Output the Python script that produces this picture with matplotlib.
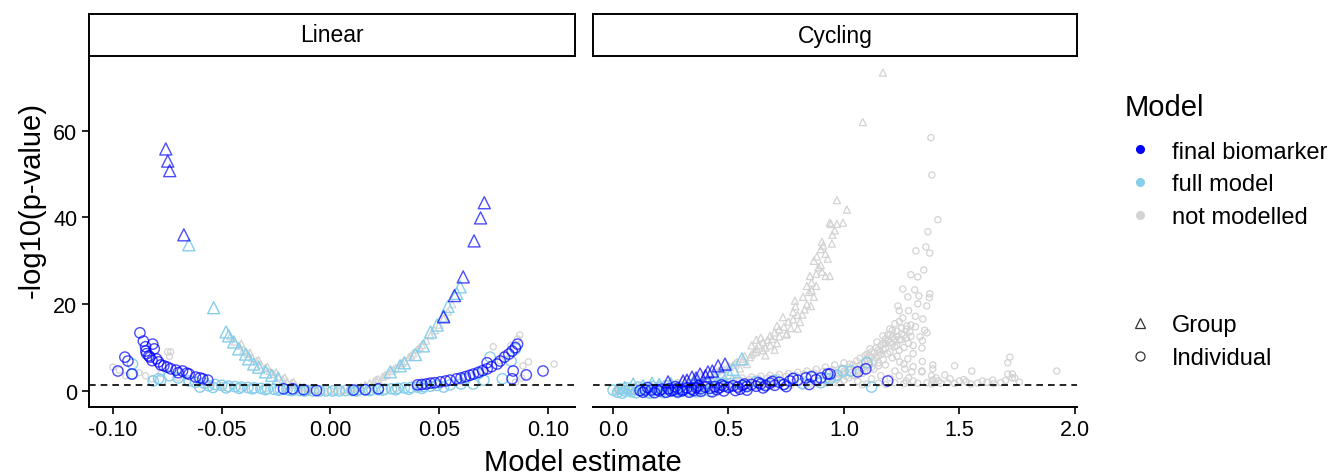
import matplotlib
matplotlib.use("Agg")
import matplotlib.pyplot as plt
from matplotlib.lines import Line2D

plt.rcParams['font.family'] = ['Liberation Sans', 'DejaVu Sans']

# ---------------- DATA ----------------
panels = ["Linear", "Cycling"]
model_labels = ["final biomarker", "full model", "not modelled"]
shape_labels = ["Group", "Individual"]
threshold = 1.301
lin_xticks = [-0.10, -0.05, 0.00, 0.05, 0.10]
lin_xticklabels = ["-0.10", "-0.05", "0.00", "0.05", "0.10"]
cyc_xticks = [0.0, 0.5, 1.0, 1.5, 2.0]
cyc_xticklabels = ["0.0", "0.5", "1.0", "1.5", "2.0"]
yticks = [0, 20, 40, 60]

# Linear panel
lin_fb_grp_x = [-0.0757, -0.0748, -0.0739, -0.0674, 0.0707, 0.0690, 0.0660, 0.0610, 0.0570, 0.0520]
lin_fb_grp_y = [55.8, 53.0, 50.8, 36.0, 43.4, 39.9, 34.6, 26.3, 22.0, 17.1]

lin_fm_grp_x = [-0.0651, -0.0537, -0.0480, -0.0468, -0.0445, -0.0422, -0.0390, -0.0376, -0.0353, -0.0330,
                -0.0298, -0.0270, -0.0240, 0.0275, 0.0320, 0.0340, 0.0390, 0.0427, 0.0460, 0.0490,
                0.0520, 0.0540, 0.0580, 0.0596]
lin_fm_grp_y = [33.7, 19.2, 13.6, 12.7, 11.3, 9.7, 8.5, 7.4, 6.2, 5.5,
                4.4, 3.6, 2.9, 4.4, 5.8, 6.5, 8.4, 10.4, 13.6, 15.2,
                17.3, 19.5, 22.5, 24.0]

lin_nm_grp_x = [-0.046, -0.044, -0.042, -0.040, -0.038, -0.036, -0.034, -0.032, -0.030, -0.028,
                -0.026, -0.024, -0.022, -0.020, -0.018, -0.016, -0.014, -0.012, -0.010, -0.008,
                -0.006, -0.004, -0.002, -0.041, -0.037, -0.033, -0.029, -0.025, -0.021, -0.017,
                0.002, 0.004, 0.006, 0.008, 0.010, 0.012, 0.014, 0.016, 0.018, 0.020,
                0.022, 0.024, 0.026, 0.028, 0.030, 0.032, 0.034, 0.036, 0.038, 0.040,
                0.042, 0.044, 0.046, 0.048, 0.050, 0.052, 0.054, 0.056, 0.021, 0.025,
                0.029, 0.033, 0.037, 0.041]
lin_nm_grp_y = [12.6, 11.4, 10.4, 9.5, 8.6, 7.7, 6.9, 6.1, 5.3, 4.6,
                3.9, 3.3, 2.7, 2.2, 1.8, 1.4, 1.0, 0.8, 0.6, 0.4,
                0.2, 0.1, 0.0, 10.9, 8.8, 7.1, 5.6, 4.3, 3.1, 2.1,
                0.0, 0.1, 0.2, 0.4, 0.6, 0.8, 1.0, 1.4, 1.8, 2.2,
                2.7, 3.3, 3.9, 4.6, 5.3, 6.1, 6.9, 7.8, 8.7, 9.6,
                10.6, 11.6, 12.8, 14.0, 15.3, 16.7, 18.3, 20.0, 2.6, 3.6,
                5.0, 6.5, 8.2, 10.1]

lin_fb_ind_x = [-0.0876, -0.0860, -0.0850, -0.0849, -0.0835, -0.0817, -0.0810, -0.0800, -0.0790, -0.0766,
                -0.0734, -0.0680, -0.0650, -0.0620, -0.0587, -0.0564, -0.0845, -0.0830, -0.0820, -0.0780,
                -0.0750, -0.0710, -0.0700, -0.0660, -0.0600, -0.0945, -0.0931, -0.0977, -0.0913,
                -0.0216, -0.0174, -0.0124, -0.0064, 0.0106, 0.0160, 0.0220,
                0.040, 0.042, 0.044, 0.046, 0.048, 0.0505, 0.053, 0.055, 0.058, 0.060,
                0.062, 0.064, 0.0657, 0.068, 0.070, 0.072, 0.074, 0.0766, 0.078, 0.080,
                0.082, 0.0835, 0.085, 0.086, 0.072, 0.084, 0.0835, 0.090, 0.0977]
lin_fb_ind_y = [13.4, 11.5, 10.2, 9.2, 8.1, 10.8, 9.7, 7.4, 6.7, 5.8,
                5.1, 4.6, 3.9, 3.2, 2.8, 2.5, 8.6, 7.8, 7.0, 6.0,
                5.5, 4.8, 4.2, 4.1, 3.0, 7.8, 6.9, 4.6, 3.9,
                0.5, 0.5, 0.3, 0.1, 0.2, 0.3, 0.5,
                1.4, 1.5, 1.6, 1.8, 1.9, 2.1, 2.3, 2.5, 2.8, 3.0,
                3.3, 3.6, 3.9, 4.3, 4.7, 5.1, 5.6, 6.2, 6.9, 7.8,
                8.5, 9.2, 10.0, 10.8, 6.5, 4.6, 2.8, 3.7, 4.6]

lin_fm_ind_x = [-0.091, -0.091, -0.0815, -0.079, -0.078, -0.074, -0.070, -0.065, -0.062, -0.058,
                -0.056, -0.053, -0.050, -0.047, -0.044, -0.041, -0.038, -0.035, -0.032, -0.029,
                -0.026, -0.023, -0.020, -0.017, -0.014, -0.011, -0.008, -0.005, -0.002, 0.001,
                0.004, 0.007, 0.010, 0.013, 0.016, 0.019, 0.022, 0.025, 0.028, 0.031,
                0.034, 0.037, 0.040, 0.043, 0.046, 0.049, 0.052, 0.055, 0.060, 0.0656,
                0.0705, 0.079, 0.0734, 0.083, 0.085, 0.068, 0.062,
                -0.060, -0.054, -0.048, -0.042, -0.036, -0.030, -0.024, -0.018, -0.012, 0.012,
                0.018, 0.024, 0.030, 0.036, 0.042]
lin_fm_ind_y = [6.2, 3.9, 2.3, 2.8, 2.5, 3.5, 3.0, 2.3, 2.0, 1.8,
                1.2, 1.5, 1.3, 1.1, 1.0, 0.9, 0.8, 0.7, 0.6, 0.5,
                0.4, 0.3, 0.3, 0.2, 0.1, 0.1, 0.0, 0.0, 0.0, 0.0,
                0.0, 0.1, 0.1, 0.2, 0.2, 0.3, 0.3, 0.4, 0.5, 0.6,
                0.7, 0.8, 0.9, 1.0, 1.1, 1.3, 0.9, 1.4, 1.6, 1.6,
                2.5, 2.8, 7.8, 6.9, 9.7, 4.0, 2.8,
                0.9, 0.8, 0.7, 0.6, 0.5, 0.3, 0.2, 0.1, 0.0, 0.0,
                0.1, 0.2, 0.3, 0.4, 0.6]

lin_nm_ind_x = [-0.100, -0.097, -0.094, -0.088, -0.085, -0.082, -0.0748, -0.0734, -0.0740, -0.078,
                -0.070, -0.066, -0.060, -0.055, -0.050, -0.045, -0.040, -0.030, -0.020, -0.010,
                0.000, 0.010, 0.020, 0.030, 0.040, 0.050, 0.060, 0.0748, 0.0885, 0.0910,
                0.1028, 0.087, 0.086, 0.083, 0.080, 0.078, 0.070, 0.065, 0.088, 0.085]
lin_nm_ind_y = [5.5, 4.8, 3.5, 4.2, 3.5, 2.8, 9.0, 9.0, 8.0, 4.0,
                3.0, 2.0, 1.8, 1.5, 1.2, 1.0, 0.8, 0.5, 0.3, 0.2,
                0.1, 0.2, 0.3, 0.5, 0.9, 1.5, 2.2, 10.2, 5.8, 6.7,
                6.2, 12.9, 12.0, 10.5, 8.5, 7.0, 4.5, 3.5, 3.0, 2.0]

# Cycling panel
cyc_fb_grp_x = [0.238, 0.303, 0.342, 0.377, 0.411, 0.430, 0.455, 0.485, 0.400, 0.360, 0.320]
cyc_fb_grp_y = [2.1, 2.3, 3.2, 3.9, 4.4, 4.6, 5.8, 6.2, 3.5, 3.0, 2.5]

cyc_fm_grp_x = [0.087, 0.169, 0.200, 0.360, 0.470, 0.520, 0.558, 0.130, 0.050, 0.250, 0.440, 0.500]
cyc_fm_grp_y = [1.6, 1.8, 1.5, 2.3, 3.9, 5.0, 7.4, 1.2, 0.8, 1.7, 3.5, 4.2]

cyc_nm_grp_x = [0.970, 0.944, 0.970, 0.905, 0.910, 0.900, 0.883, 0.870, 0.905, 0.880,
                0.853, 0.920, 0.840, 0.870, 0.823, 0.857, 0.788, 0.790, 0.780, 0.810,
                0.736, 0.710, 0.753, 0.680, 0.650, 0.623, 0.610, 0.593, 0.563, 0.537,
                0.506, 1.169, 1.082, 1.013, 0.939, 0.996, 0.948, 0.939,
                0.600, 0.620, 0.640, 0.660, 0.700, 0.720, 0.760, 0.770, 0.800, 0.830,
                0.850, 0.860, 0.890, 0.930, 0.950,
                0.450, 0.400, 0.350, 0.300, 0.250, 0.200, 0.150, 0.100, 0.050, 0.020,
                0.550, 0.580, 0.520, 0.480, 0.660, 0.700,
                0.32, 0.38, 0.42, 0.46, 0.50, 0.53, 0.56, 0.57, 0.60, 0.62,
                0.63, 0.65, 0.67, 0.69, 0.72, 0.74, 0.75, 0.78, 0.80, 0.82,
                0.84, 0.86, 0.88, 0.90, 0.92, 0.96, 0.68, 0.71]
cyc_nm_grp_y = [44.0, 38.5, 38.5, 34.4, 33.5, 32.7, 31.0, 30.0, 27.5, 27.0,
                26.5, 26.5, 24.2, 21.7, 21.7, 19.6, 20.8, 19.5, 18.2, 15.9,
                17.0, 15.0, 13.2, 12.7, 11.3, 9.7, 8.9, 7.8, 7.4, 6.7,
                5.5, 73.4, 62.0, 41.8, 38.8, 38.8, 34.0, 26.5,
                10.5, 11.8, 12.3, 10.0, 13.5, 14.2, 16.0, 14.5, 17.5, 18.8,
                22.8, 25.0, 28.5, 30.5, 36.0,
                4.5, 3.8, 3.0, 2.4, 1.9, 1.5, 1.1, 0.8, 0.5, 0.3,
                5.2, 6.2, 6.0, 5.0, 8.2, 9.5,
                2.8, 3.4, 4.2, 4.8, 5.8, 6.4, 6.8, 8.0, 8.4, 9.0,
                10.6, 9.4, 11.8, 12.0, 12.6, 14.8, 13.0, 16.5, 14.4, 17.6,
                20.0, 23.2, 24.2, 29.0, 31.6, 37.0, 10.5, 11.0]

cyc_fb_ind_x = [0.117, 0.140, 0.165, 0.190, 0.210, 0.240, 0.260, 0.280, 0.300, 0.320,
                0.340, 0.360, 0.380, 0.400, 0.420, 0.440, 0.460, 0.480, 0.500, 0.520,
                0.540, 0.560, 0.580, 0.600, 0.620, 0.640, 0.660, 0.680, 0.700, 0.720,
                0.740, 0.766, 0.800, 0.835, 0.880, 0.930, 0.940, 1.060, 1.095, 1.190,
                0.250, 0.350, 0.450, 0.550, 0.650, 0.750, 0.850, 0.200, 0.300,
                0.13, 0.18, 0.23, 0.28, 0.33, 0.38, 0.43, 0.48, 0.53, 0.58,
                0.15, 0.27, 0.37, 0.47, 0.57, 0.63, 0.69, 0.78, 0.86, 0.90]
cyc_fb_ind_y = [0.1, 0.2, 0.2, 0.3, 0.4, 0.5, 0.2, 0.6, 0.3, 0.7,
                0.4, 0.8, 0.5, 0.9, 0.6, 1.0, 0.7, 1.1, 0.8, 1.2,
                0.9, 1.3, 1.0, 1.5, 1.1, 1.6, 1.2, 1.8, 1.3, 2.0,
                1.5, 2.3, 2.5, 3.0, 2.6, 3.9, 3.9, 4.4, 5.1, 2.3,
                0.0, 0.1, 0.3, 0.4, 0.7, 1.0, 1.5, 0.0, 0.0,
                -0.3, -0.4, -0.3, -0.2, -0.3, -0.1, -0.2, 0.0, 0.1, 0.2,
                0.8, 1.0, 1.2, 1.4, 1.6, 1.9, 2.2, 2.9, 3.3, 3.0]

cyc_fm_ind_x = [0.00, 0.02, 0.03, 0.05, 0.06, 0.08, 0.09, 0.11, 0.12, 0.14,
                0.15, 0.17, 0.18, 0.20, 0.21, 0.23, 0.25, 0.27, 0.29, 0.31,
                0.34, 0.37, 0.40, 0.43, 0.46, 0.50, 0.54, 0.58, 0.62, 0.66,
                0.70, 0.74, 0.78, 0.82, 0.86, 0.90, 0.996, 1.03, 1.10, 1.12,
                0.94, 0.97, 0.92,
                0.04, 0.07, 0.10, 0.13, 0.16, 0.19, 0.22, 0.26, 0.28, 0.33,
                0.36, 0.39, 0.42]
cyc_fm_ind_y = [0.2, -0.3, 0.5, 0.0, 0.7, -0.2, 0.4, 0.9, 0.0, 0.6,
                -0.3, 1.0, 0.3, 0.8, -0.1, 1.2, 0.5, 0.0, 1.0, 0.3,
                1.4, 0.6, 1.6, 0.8, 1.8, 1.0, 2.0, 1.2, 2.2, 1.4,
                2.4, 1.5, 2.8, 1.7, 3.2, 1.9, 4.6, 4.6, 6.5, 0.9,
                2.8, 3.6, 3.0,
                -0.5, 0.2, -0.4, 0.3, -0.5, 0.4, -0.4, 0.0, -0.4, 0.0,
                -0.2, 0.1, -0.1]

cyc_nm_ind_x = [1.377, 1.381, 1.407, 1.364, 1.312, 1.355, 1.372, 1.346, 1.290, 1.320,
                1.255, 1.307, 1.277, 1.325, 1.372, 1.370, 1.320, 1.359, 1.234, 1.240,
                1.255, 1.342, 1.273, 1.290, 1.221, 1.199, 1.286, 1.250, 1.169, 1.210,
                1.270, 1.143, 1.180, 1.229, 1.113, 1.156, 1.091, 1.056, 1.026, 1.338,
                1.385, 1.480, 1.554, 1.719, 1.710, 1.710, 1.730, 1.922, 1.645, 1.600,
                1.730, 1.740, 1.530, 1.500, 1.437, 1.385, 1.380, 1.338, 1.338, 1.294,
                1.264, 1.221, 1.242, 1.277, 1.270, 1.300, 1.410, 1.385, 1.450,
                0.95, 0.97, 0.99, 1.00, 1.02, 1.04, 1.05, 1.07, 1.08, 1.10,
                1.10, 1.12, 1.12, 1.14, 1.15, 1.16, 1.17, 1.18, 1.19, 1.20,
                1.21, 1.22, 1.23, 1.24, 1.25, 1.26, 1.20, 1.15, 1.10, 1.05,
                1.00, 0.96, 1.02, 1.08, 1.13, 1.18, 1.06, 1.12, 1.16, 1.20,
                1.24, 1.28, 1.15, 1.22, 1.10, 1.32, 1.36, 1.42, 1.55, 1.65,
                1.33, 1.30, 1.35, 1.28, 1.31, 1.23,
                0.93, 0.95, 0.97, 0.98, 1.00, 1.01, 1.03, 1.03, 1.04, 1.05,
                1.06, 1.07, 1.08, 1.09, 1.09, 1.10, 1.11, 1.11, 1.12, 1.13,
                1.13, 1.14, 1.15, 1.15, 1.16, 1.17, 1.17, 1.18, 1.19, 1.19,
                1.20, 1.21, 1.21, 1.22, 1.23, 1.24, 1.24, 1.25, 1.26, 1.27,
                1.28, 1.29, 1.30, 1.31, 1.34, 1.36, 1.26, 1.30, 1.34, 1.40,
                1.46, 1.52, 1.58, 1.62, 1.68, 1.70, 1.76, 1.48, 1.38, 1.26,
                1.18, 1.08,
                0.02, 0.04, 0.06, 0.08, 0.10, 0.12, 0.14, 0.16, 0.18, 0.20,
                0.22, 0.24, 0.26, 0.28, 0.30, 0.32, 0.34, 0.36, 0.38, 0.40,
                0.42, 0.44, 0.46, 0.48, 0.50, 0.52, 0.54, 0.56, 0.58, 0.60,
                0.62, 0.64, 0.66, 0.68, 0.70, 0.72, 0.74, 0.76, 0.78, 0.80,
                0.82, 0.84, 0.86, 0.88, 0.90, 0.92, 0.94, 0.96, 0.98, 1.00,
                0.01, 0.03, 0.05, 0.07, 0.09, 0.11, 0.13, 0.15, 0.17, 0.19,
                0.21, 0.23, 0.25, 0.27, 0.29, 0.31, 0.33, 0.35, 0.37, 0.39,
                0.41, 0.43, 0.45, 0.47, 0.49, 0.51, 0.53, 0.55, 0.57, 0.59,
                0.61, 0.63, 0.65, 0.67, 0.69, 0.71, 0.73, 0.75, 0.77, 0.79,
                0.81, 0.83, 0.85, 0.87, 0.89, 0.91, 0.93, 0.95, 0.97, 0.99]
cyc_nm_ind_y = [58.4, 49.8, 39.5, 36.7, 32.3, 33.2, 31.8, 27.9, 26.8, 26.3,
                23.5, 23.3, 21.7, 21.9, 22.4, 21.5, 20.1, 19.6, 19.6, 18.5,
                16.8, 16.6, 15.0, 15.2, 15.5, 14.3, 13.6, 13.2, 12.7, 12.5,
                12.2, 11.3, 11.0, 10.4, 9.7, 9.0, 8.1, 6.9, 6.2, 9.9,
                6.0, 5.8, 4.6, 7.8, 6.5, 3.9, 3.9, 4.6, 2.5, 2.3,
                3.0, 3.0, 2.1, 2.3, 3.7, 5.1, 3.5, 4.4, 4.6, 4.4,
                5.1, 4.6, 6.7, 7.4, 2.3, 2.3, 2.3, 2.5, 1.9,
                3.5, 4.2, 5.0, 3.8, 5.5, 6.0, 4.8, 7.5, 6.5, 8.5,
                7.0, 9.0, 7.8, 10.0, 8.2, 10.5, 9.5, 12.0, 11.5, 13.0,
                10.8, 12.0, 13.8, 11.8, 14.5, 12.8, 9.0, 6.5, 5.5, 3.5,
                2.5, 2.0, 3.0, 4.0, 5.0, 6.0, 2.2, 2.8, 3.5, 3.0,
                3.5, 3.0, 1.8, 1.9, 1.6, 1.8, 1.9, 1.8, 1.6, 1.7,
                12.5, 10.5, 14.0, 18.5, 17.2, 8.0,
                2.6, 3.0, 3.3, 4.0, 4.5, 3.4, 4.2, 5.0, 3.6, 5.5,
                4.4, 6.0, 5.2, 6.8, 4.6, 7.5, 6.0, 8.2, 5.4, 8.8,
                6.8, 7.6, 9.5, 5.8, 8.4, 11.0, 7.2, 9.8, 8.6, 13.0,
                11.2, 7.6, 14.0, 10.2, 12.6, 9.4, 16.0, 11.8, 10.0, 14.2,
                11.0, 12.6, 8.6, 14.8, 11.6, 13.4, 6.2, 5.6, 6.8, 3.0,
                2.8, 2.6, 1.8, 2.0, 1.9, 2.4, 2.0, 1.7, 1.6, 1.7,
                1.5, 1.4,
                0.3, 0.6, -0.2, 0.9, 0.2, 1.1, 0.4, 1.3, 0.0, 1.5,
                0.6, 1.7, 0.2, 1.9, 0.8, 2.0, 0.3, 2.1, 1.0, 2.3,
                0.5, 2.4, 1.2, 2.6, 0.6, 2.8, 1.4, 3.0, 0.8, 3.2,
                1.5, 3.4, 0.9, 3.6, 1.7, 3.8, 1.0, 4.0, 1.9, 4.3,
                1.2, 4.6, 2.1, 5.0, 1.5, 5.5, 2.4, 6.0, 1.8, 6.5,
                -0.5, 0.0, 0.4, -0.4, 0.1, -0.3, 0.6, 0.0, 0.2, 0.8,
                0.4, 0.0, 1.0, 0.5, 0.2, 1.2, 0.6, 1.5, 0.3, 1.7,
                0.9, 1.9, 0.5, 2.0, 1.1, 2.2, 0.7, 2.4, 1.3, 2.6,
                0.9, 2.8, 1.6, 3.0, 1.1, 3.2, 1.8, 3.4, 1.3, 3.6,
                2.0, 3.9, 1.6, 4.2, 2.3, 4.5, 1.9, 4.9, 2.6, 5.3]

# ---------------- STYLE ----------------
col_fb = (0.0, 0.0, 1.0, 0.7)
col_fm = "#87CEEB"
col_nm = "#D3D3D3"

W, H = 1331, 477
fig = plt.figure(figsize=(W / 100, H / 100), dpi=100)

def fx(px):
    return px / W

def fy(py):
    return 1 - py / H

pan_top, pan_bot = 58, 408
ax1 = fig.add_axes([fx(89), fy(pan_bot), fx(575 - 89), (pan_bot - pan_top) / H])
ax2 = fig.add_axes([fx(593), fy(pan_bot), fx(1077 - 593), (pan_bot - pan_top) / H], sharey=ax1)

def draw(ax, data):
    for x, y, mk, c, s, lw in data:
        ax.scatter(x, y, marker=mk, s=s, facecolors='none', edgecolors=[c], linewidths=lw, zorder=3)

draw(ax1, [
    (lin_nm_ind_x, lin_nm_ind_y, 'o', col_nm, 20, 0.9),
    (lin_nm_grp_x, lin_nm_grp_y, '^', col_nm, 26, 0.9),
    (lin_fm_ind_x, lin_fm_ind_y, 'o', col_fm, 55, 1.0),
    (lin_fm_grp_x, lin_fm_grp_y, '^', col_fm, 75, 1.0),
    (lin_fb_ind_x, lin_fb_ind_y, 'o', col_fb, 55, 1.0),
    (lin_fb_grp_x, lin_fb_grp_y, '^', col_fb, 75, 1.0),
])
draw(ax2, [
    (cyc_nm_ind_x, cyc_nm_ind_y, 'o', col_nm, 20, 0.9),
    (cyc_nm_grp_x, cyc_nm_grp_y, '^', col_nm, 26, 0.9),
    (cyc_fm_ind_x, cyc_fm_ind_y, 'o', col_fm, 55, 1.0),
    (cyc_fm_grp_x, cyc_fm_grp_y, '^', col_fm, 75, 1.0),
    (cyc_fb_ind_x, cyc_fb_ind_y, 'o', col_fb, 55, 1.0),
    (cyc_fb_grp_x, cyc_fb_grp_y, '^', col_fb, 75, 1.0),
])

for ax in (ax1, ax2):
    ax.axhline(threshold, color='black', linestyle=(0, (4, 3)), linewidth=1.2, zorder=4)
    for s in ('top', 'right'):
        ax.spines[s].set_visible(False)
    ax.spines['bottom'].set_linewidth(1.4)
    ax.spines['left'].set_linewidth(1.4)
    ax.tick_params(axis='both', labelsize=15.5, length=5, width=1.2, colors='black')

ax1.set_ylim(-3.7, 77)
ax1.set_yticks(yticks)
ax1.set_xlim(-0.111, 0.1124)
ax1.set_xticks(lin_xticks)
ax1.set_xticklabels(lin_xticklabels)
ax2.set_xlim(-0.087, 2.01)
ax2.set_xticks(cyc_xticks)
ax2.set_xticklabels(cyc_xticklabels)
ax2.spines['left'].set_visible(False)
ax2.tick_params(axis='y', left=False, labelleft=False)

# strips
for px0, px1, label in [(89, 575, panels[0]), (593, 1077, panels[1])]:
    sax = fig.add_axes([fx(px0), fy(57), fx(px1 - px0), 42 / H])
    sax.set_xticks([]); sax.set_yticks([])
    sax.set_facecolor('white')
    for s in sax.spines.values():
        s.set_linewidth(1.4)
        s.set_color('black')
    sax.text(0.5, 0.5, label, ha='center', va='center', fontsize=16.5, transform=sax.transAxes)

fig.text(fx(583), fy(463), "Model estimate", ha='center', va='center', fontsize=21)
fig.text(fx(32), fy(200), "-log10(p-value)", ha='center', va='center', rotation=90, fontsize=21)

# legends
fig.text(fx(1125), fy(108), "Model", ha='left', va='center', fontsize=21)
h1 = [Line2D([], [], linestyle='none', marker='o', markersize=5.5, color=c, markeredgecolor=c)
      for c in ['blue', col_fm, col_nm]]
leg1 = fig.legend(h1, model_labels, loc='center left', bbox_to_anchor=(fx(1109), fy(185.5)),
                  frameon=False, fontsize=17, handletextpad=0.76, labelspacing=0.46,
                  handlelength=1.2, borderpad=0.2)
h2 = [Line2D([], [], linestyle='none', marker=m, markersize=6.5, markerfacecolor='none',
             markeredgecolor='#333333', markeredgewidth=0.9) for m in ['^', 'o']]
leg2 = fig.legend(h2, shape_labels, loc='center left', bbox_to_anchor=(fx(1109), fy(342.5)),
                  frameon=False, fontsize=17, handletextpad=0.76, labelspacing=0.46,
                  handlelength=1.2, borderpad=0.2)

fig.savefig("out.png", dpi=100)
